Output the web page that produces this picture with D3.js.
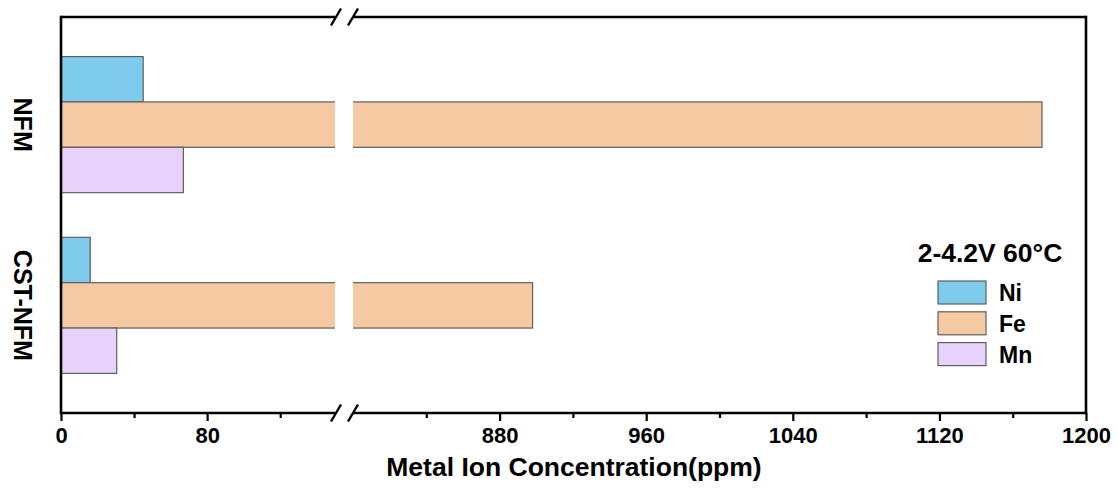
<!DOCTYPE html>
<html>
<head>
<meta charset="utf-8">
<script src="https://cdn.jsdelivr.net/npm/d3@7/dist/d3.min.js"></script>
<style>
  html, body { margin: 0; padding: 0; background: #fff; }
  svg { display: block; font-family: "Liberation Sans", Arial, sans-serif; }
  text { font-weight: bold; fill: #000; }
</style>
</head>
<body>
<svg id="chart" width="1118" height="488"></svg>
<script>
// Sample groups (top to bottom) and dissolved metal ion series
const samples = ["NFM", "CST-NFM"];
const metals = ["Ni", "Fe", "Mn"];
const niValues = [45, 16];
const feValues = [1176, 898];
const mnValues = [67, 30.5];
const metalColors = ["#7ecbec", "#f5c9a2", "#e6d2fb"];

// Broken x axis: low segment and high segment
const lowDomain = [0, 150];
const highDomain = [800, 1200];
const majorTicksLow = [0, 80];
const minorTicksLow = [40, 120];
const majorTicksHigh = [880, 960, 1040, 1120, 1200];
const minorTicksHigh = [840, 920, 1000, 1080, 1160];

const legendTitle = "2-4.2V 60°C";
const xTitle = "Metal Ion Concentration(ppm)";

const svg = d3.select("#chart");
const plotLeft = 61, plotRight = 1086, plotTop = 17, plotBottom = 413;
const breakL = 335, breakR = 353;

const xLow = d3.scaleLinear().domain(lowDomain).range([plotLeft, breakL]);
const xHigh = d3.scaleLinear().domain(highDomain).range([breakR, plotRight]);
const x = v => (v <= lowDomain[1] ? xLow(v) : xHigh(v));

const y0 = d3.scaleBand().domain(samples).range([plotTop, plotBottom])
  .paddingInner(0.247).paddingOuter(0.219);
const y1 = d3.scaleBand().domain(metals).range([0, y0.bandwidth()]);

const seriesValues = { Ni: niValues, Fe: feValues, Mn: mnValues };
const color = d3.scaleOrdinal().domain(metals).range(metalColors);

const rows = [];
samples.forEach((s, i) => metals.forEach(m => rows.push({ sample: s, metal: m, value: seriesValues[m][i] })));

// Bars
const bars = svg.append("g");
bars.selectAll("rect.bar").data(rows).join("rect")
  .attr("class", "bar")
  .attr("x", x(0))
  .attr("y", d => y0(d.sample) + y1(d.metal))
  .attr("width", d => x(d.value) - x(0))
  .attr("height", y1.bandwidth())
  .attr("fill", d => color(d.metal))
  .attr("stroke", "#5f5f5f")
  .attr("stroke-width", 1.2);

// White gap where bars cross the axis break
bars.selectAll("rect.gap").data(rows.filter(d => d.value > lowDomain[1])).join("rect")
  .attr("class", "gap")
  .attr("x", breakL)
  .attr("y", d => y0(d.sample) + y1(d.metal) - 2)
  .attr("width", breakR - breakL)
  .attr("height", y1.bandwidth() + 4)
  .attr("fill", "#fff");

// Bottom axis ticks
function tickAxis(scale, values, size, labelled) {
  const g = svg.append("g").attr("transform", `translate(0,${plotBottom})`)
    .call(d3.axisBottom(scale).tickValues(values).tickSize(size).tickPadding(6)
      .tickFormat(labelled ? d3.format("d") : () => ""));
  g.select(".domain").remove();
  g.selectAll(".tick line").attr("stroke", "#000").attr("stroke-width", 2.2);
  g.selectAll(".tick text").style("font-size", "22px").style("font-weight", "bold")
    .attr("fill", "#000");
  return g;
}
tickAxis(xLow, majorTicksLow, 8, true);
tickAxis(xLow, minorTicksLow, 5, false);
tickAxis(xHigh, majorTicksHigh, 8, true);
tickAxis(xHigh, minorTicksHigh, 5, false);

// Frame with break
const frame = svg.append("g").attr("stroke", "#000").attr("stroke-width", 2.6).attr("fill", "none");
frame.append("line").attr("x1", plotLeft).attr("x2", plotLeft).attr("y1", plotTop - 1.3).attr("y2", plotBottom + 1.3);
frame.append("line").attr("x1", plotRight).attr("x2", plotRight).attr("y1", plotTop - 1.3).attr("y2", plotBottom + 1.3);
[plotTop, plotBottom].forEach(yy => {
  frame.append("line").attr("x1", plotLeft).attr("x2", breakL).attr("y1", yy).attr("y2", yy);
  frame.append("line").attr("x1", breakR).attr("x2", plotRight).attr("y1", yy).attr("y2", yy);
  [breakL + 1, breakR].forEach(bx => {
    frame.append("line").attr("x1", bx - 5).attr("y1", yy + 8.5)
      .attr("x2", bx + 5).attr("y2", yy - 8.5).attr("stroke-width", 2.4);
  });
});

// Sample labels
svg.append("g").selectAll("text").data(samples).join("text")
  .attr("transform", d => `translate(14,${y0(d) + y0.bandwidth() / 2}) rotate(90)`)
  .attr("text-anchor", "middle")
  .style("font-size", "25px")
  .text(d => d);

// X axis title
svg.append("text")
  .attr("x", 574)
  .attr("y", 476)
  .attr("text-anchor", "middle")
  .style("font-size", "26.5px")
  .text(xTitle);

// Legend
const legend = svg.append("g");
legend.append("text").attr("x", 990).attr("y", 262).attr("text-anchor", "middle")
  .style("font-size", "26.5px").text(legendTitle);
const item = legend.selectAll("g.item").data(metals).join("g")
  .attr("class", "item")
  .attr("transform", (d, i) => `translate(938,${281 + i * 30.8})`);
item.append("rect").attr("width", 48).attr("height", 23)
  .attr("fill", d => color(d)).attr("stroke", "#5f5f5f").attr("stroke-width", 1.2);
item.append("text").attr("x", 61).attr("y", 20).style("font-size", "23px").text(d => d);
</script>
</body>
</html>
